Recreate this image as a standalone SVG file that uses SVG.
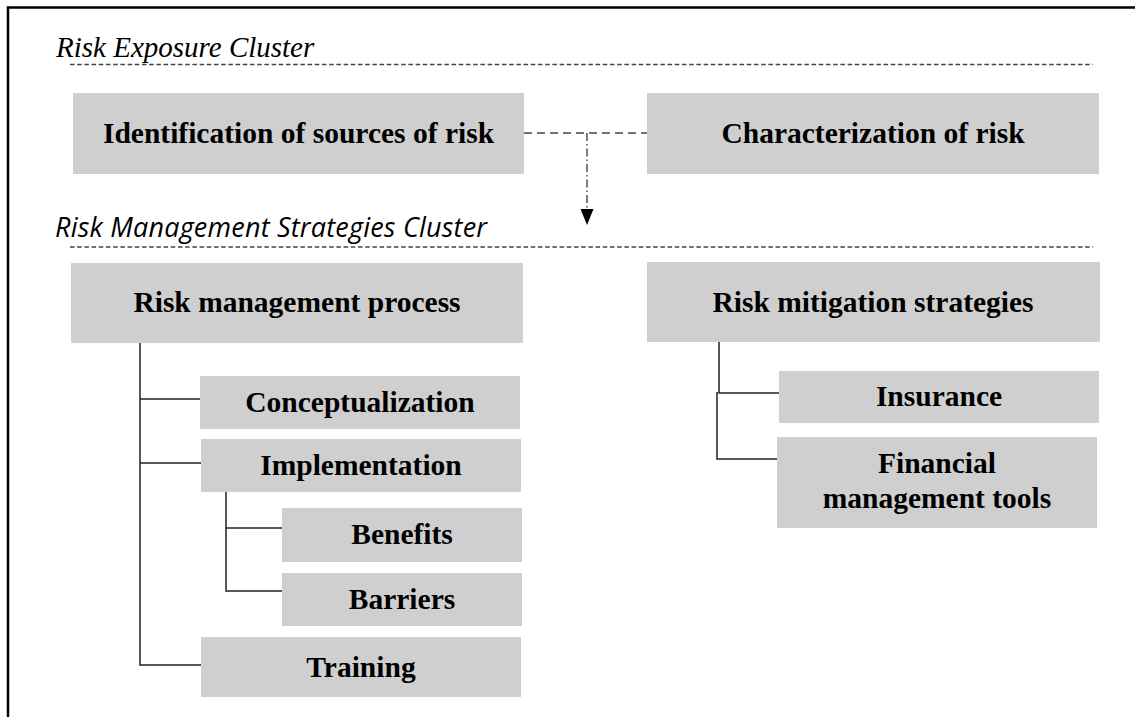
<svg xmlns="http://www.w3.org/2000/svg" width="1135" height="717" viewBox="0 0 1135 717">
<defs>
<style>
.box{fill:#d0cfd0;}
.lbl{font-family:"Liberation Serif","Times New Roman",serif;font-weight:bold;font-size:29.5px;fill:#000;text-anchor:middle;}
.t1{font-family:"Liberation Serif","Times New Roman",serif;font-style:italic;font-size:29px;fill:#000;}
.t2{font-family:"Open Sans","Noto Sans",sans-serif;font-style:italic;font-size:27px;fill:#000;}
.sep{stroke:#444;stroke-width:1.3;stroke-dasharray:4.5 2.7;fill:none;}
.tree{stroke:#222;stroke-width:1.5;fill:none;}
.dash{stroke:#444;stroke-width:1.6;stroke-dasharray:8 5;fill:none;}
.dashdot{stroke:#444;stroke-width:1.4;stroke-dasharray:8 3 1.5 3;fill:none;}
</style>
</defs>
<rect x="0" y="0" width="1135" height="717" fill="#fff"/>
<path d="M8,717 V7.5 H1135" stroke="#000" stroke-width="2.5" fill="none"/>

<g id="cluster-titles">
<text class="t1" x="56" y="57">Risk Exposure Cluster</text>
<line class="sep" x1="70" y1="64.5" x2="1093" y2="64.5"/>
<text class="t2" x="55" y="237" textLength="432">Risk Management Strategies Cluster</text>
<line class="sep" x1="70" y1="247" x2="1093" y2="247"/>
</g>

<g id="connectors">
<line class="dash" x1="524" y1="133" x2="647" y2="133"/>
<line class="dashdot" x1="587" y1="133" x2="587" y2="211"/>
<path d="M580.5,209 L593.5,209 L587,225 z" fill="#000"/>
<path class="tree" d="M140,343 V665 H201 M140,399 H200 M140,463 H201"/>
<path class="tree" d="M226,492 V591 H282 M226,528 H282"/>
<path class="tree" d="M719,341 V393 H779 M717,392 V459 H777"/>
</g>

<g id="n-identification"><rect class="box" x="73" y="93" width="451" height="81"/><text class="lbl" x="298.5" y="143">Identification of sources of risk</text></g>
<g id="n-characterization"><rect class="box" x="647" y="93" width="452" height="81"/><text class="lbl" x="873" y="143">Characterization of risk</text></g>
<g id="n-rmp"><rect class="box" x="71" y="263" width="452" height="80"/><text class="lbl" x="297" y="312">Risk management process</text></g>
<g id="n-rms"><rect class="box" x="647" y="262" width="453" height="80"/><text class="lbl" x="873" y="312">Risk mitigation strategies</text></g>
<g id="n-conceptualization"><rect class="box" x="200" y="376" width="320" height="53"/><text class="lbl" x="360" y="412">Conceptualization</text></g>
<g id="n-implementation"><rect class="box" x="201" y="439" width="320" height="53"/><text class="lbl" x="361" y="475">Implementation</text></g>
<g id="n-benefits"><rect class="box" x="282" y="508" width="240" height="54"/><text class="lbl" x="402" y="544">Benefits</text></g>
<g id="n-barriers"><rect class="box" x="282" y="573" width="240" height="53"/><text class="lbl" x="402" y="609">Barriers</text></g>
<g id="n-training"><rect class="box" x="201" y="637" width="320" height="60"/><text class="lbl" x="361" y="677">Training</text></g>
<g id="n-insurance"><rect class="box" x="779" y="371" width="320" height="52"/><text class="lbl" x="939" y="406">Insurance</text></g>
<g id="n-financial"><rect class="box" x="777" y="437" width="320" height="91"/><text class="lbl" x="937" y="473">Financial</text><text class="lbl" x="937" y="508">management tools</text></g>
</svg>
